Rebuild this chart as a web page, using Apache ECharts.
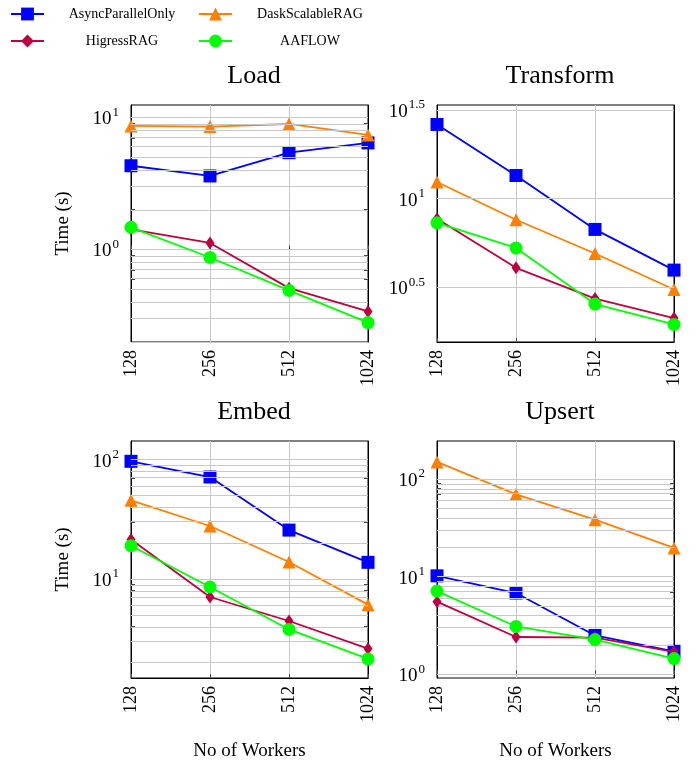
<!DOCTYPE html>
<html>
<head>
<meta charset="utf-8">
<title>Time vs workers</title>
<script src="https://cdn.jsdelivr.net/npm/echarts@6/dist/echarts.min.js"></script>
<style>
    html, body { margin: 0; padding: 0; background: #fff; }
    #main { width: 700px; height: 762px; }
</style>
</head>
<body>
<div id="main"></div>
<script>
const workers = ['128', '256', '512', '1024'];
const seriesNames = ['AsyncParallelOnly', 'DaskScalableRAG', 'HigressRAG', 'AAFLOW'];

// Load (s)
const loadAsync = [4.3, 3.6, 5.4, 6.4];
const loadDask = [8.6, 8.5, 8.9, 7.35];
const loadHigress = [1.42, 1.12, 0.51, 0.34];
const loadAaflow = [1.47, 0.87, 0.49, 0.28];

// Transform (s)
const transformAsync = [26.2, 13.5, 6.7, 3.95];
const transformDask = [12.4, 7.6, 4.9, 3.07];
const transformHigress = [7.7, 4.07, 2.73, 2.12];
const transformAaflow = [7.3, 5.27, 2.54, 1.95];

// Embed (s)
const embedAsync = [96.8, 71.5, 25.7, 13.8];
const embedDask = [45.6, 27.8, 13.9, 6.1];
const embedHigress = [21.4, 7.07, 4.45, 2.61];
const embedAaflow = [19.0, 8.57, 3.78, 2.14];

// Upsert (s)
const upsertAsync = [10.2, 6.8, 2.5, 1.72];
const upsertDask = [150, 69.8, 38.4, 19.7];
const upsertHigress = [5.55, 2.41, 2.38, 1.70];
const upsertAaflow = [7.12, 3.09, 2.27, 1.45];

// labelled y ticks, as powers of ten
const loadTicks = [0, 1];
const transformTicks = [0.5, 1, 1.5];
const embedTicks = [1, 2];
const upsertTicks = [0, 1, 2];

const colors = ['#0000ff', '#ff8000', '#bf0040', '#00ff00'];
const symbols = ['rect', 'triangle', 'diamond', 'circle'];
const symbolSizes = [13, 13, [9, 13], 13];
const font = "'Liberation Serif', 'Times New Roman', serif";

// the y axes are log10 scales: values are plotted as log10(seconds)
const panels = [
    { title: 'Load', data: [loadAsync, loadDask, loadHigress, loadAaflow], ticks: loadTicks,
      min: -0.70, max: 1.093, minor: true, left: 131, top: 105 },
    { title: 'Transform', data: [transformAsync, transformDask, transformHigress, transformAaflow], ticks: transformTicks,
      min: 0.191, max: 1.528, minor: false, left: 437, top: 105 },
    { title: 'Embed', data: [embedAsync, embedDask, embedHigress, embedAaflow], ticks: embedTicks,
      min: 0.171, max: 2.156, minor: true, left: 131, top: 441 },
    { title: 'Upsert', data: [upsertAsync, upsertDask, upsertHigress, upsertAaflow], ticks: upsertTicks,
      min: -0.038, max: 2.39, minor: true, left: 437, top: 441 }
];

// minor grid at 2..9 x 10^n, none above the highest labelled tick
function minorValues(p, top) {
    let out = [];
    if (!p.minor) return out;
    for (let e = Math.floor(p.min); e < top; e++) {
        for (let k = 2; k <= 9; k++) {
            let v = e + Math.log10(k);
            if (v > p.min && v < top) out.push(v);
        }
    }
    return out;
}

let grids = [], xAxes = [], yAxes = [], series = [], titles = [];

panels.forEach(function (p, i) {
    let majors = p.ticks.filter(function (t) { return t >= p.min && t <= p.max; });
    let allLines = majors.concat(minorValues(p, Math.max.apply(null, majors)));
    let isLeft = p.left < 300;
    let isBottom = p.top > 300;

    grids.push({ left: p.left, top: p.top, width: 237, height: 237,
        show: true, borderColor: '#000', borderWidth: 1 });

    titles.push({ text: p.title, left: p.left + 118, top: p.top - 47, textAlign: 'center',
        textStyle: { fontFamily: font, fontSize: 26, fontWeight: 'normal', color: '#000' } });

    xAxes.push({
        type: 'category', gridIndex: i, data: workers, boundaryGap: false,
        axisLine: { lineStyle: { color: '#000' } },
        axisTick: { inside: true, length: 4, lineStyle: { color: '#444' } },
        axisLabel: { rotate: 90, margin: 8, fontFamily: font, fontSize: 18, color: '#000' },
        splitLine: { show: true, lineStyle: { color: '#c8c8c8' } },
        name: isBottom ? 'No of Workers' : '', nameLocation: 'middle', nameGap: 64,
        nameTextStyle: { fontFamily: font, fontSize: 19, color: '#000' }
    });

    yAxes.push({
        type: 'value', gridIndex: i, min: p.min, max: p.max,
        axisLine: { show: true, lineStyle: { color: '#000' } },
        axisTick: { show: true, inside: true, length: 4, customValues: allLines, lineStyle: { color: '#444' } },
        axisLabel: {
            customValues: majors, margin: 12, color: '#000',
            formatter: function (v) { return '{b|10}{s|' + (+v.toFixed(1)) + '}'; },
            rich: {
                b: { fontFamily: font, fontSize: 19, color: '#000', padding: [4, 0, 0, 0] },
                s: { fontFamily: font, fontSize: 13, color: '#000', padding: [0, 0, 10, 1] }
            }
        },
        splitLine: { show: false },
        name: isLeft ? 'Time (s)' : '', nameLocation: 'middle', nameGap: 58,
        nameTextStyle: { fontFamily: font, fontSize: 19, color: '#000' }
    });
    yAxes.push({
        type: 'value', gridIndex: i, min: p.min, max: p.max, position: 'right',
        axisLine: { show: true, lineStyle: { color: '#000' } },
        axisTick: { show: true, inside: true, length: 4, customValues: allLines, lineStyle: { color: '#444' } },
        axisLabel: { show: false },
        splitLine: { show: false }
    });

    // horizontal grid lines
    series.push({
        name: 'grid' + i, type: 'line', xAxisIndex: i, yAxisIndex: 2 * i, data: [],
        silent: true, z: 1,
        markLine: {
            symbol: 'none', silent: true, animation: false, label: { show: false },
            lineStyle: { color: '#c8c8c8', width: 1, type: 'solid' },
            data: allLines.map(function (v) { return { yAxis: v }; })
        }
    });

    p.data.forEach(function (vals, s) {
        series.push({
            name: seriesNames[s], type: 'line', xAxisIndex: i, yAxisIndex: 2 * i,
            data: vals.map(function (v) { return Math.log10(v); }),
            symbol: symbols[s], symbolSize: symbolSizes[s], z: 3 + s,
            itemStyle: { color: colors[s] },
            lineStyle: { color: colors[s], width: 1.8 }
        });
    });
});

// one legend per entry so the two columns line up
function legendItem(name, left, top) {
    return {
        data: [name], left: left, top: top, itemWidth: 33, itemHeight: 16,
        formatter: '{a|{name}}',
        textStyle: { rich: { a: { width: 146, align: 'center', fontFamily: font, fontSize: 14, color: '#000' } } }
    };
}

let myChart = echarts.init(document.getElementById('main'));
myChart.setOption({
    animation: false,
    title: titles,
    legend: [
        legendItem(seriesNames[0], 5, 2),
        legendItem(seriesNames[1], 193, 2),
        legendItem(seriesNames[2], 5, 29),
        legendItem(seriesNames[3], 193, 29)
    ],
    grid: grids,
    xAxis: xAxes,
    yAxis: yAxes,
    series: series
});
</script>
</body>
</html>
